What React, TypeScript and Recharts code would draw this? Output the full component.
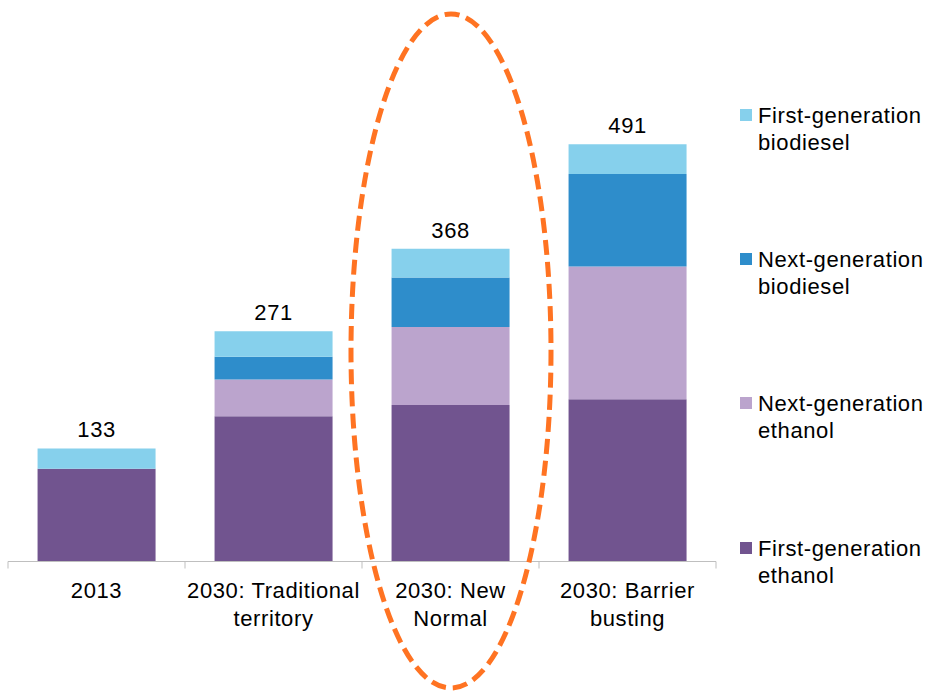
import { BarChart, Bar, XAxis, YAxis, LabelList } from 'recharts';

const categories = ['2013', '2030: Traditional territory', '2030: New Normal', '2030: Barrier busting'];
const tickLines = [['2013'], ['2030: Traditional', 'territory'], ['2030: New', 'Normal'], ['2030: Barrier', 'busting']];
const firstGenEthanol = [109, 171, 184, 191];
const nextGenEthanol = [0, 43, 92, 156];
const nextGenBiodiesel = [0, 27, 58, 109];
const firstGenBiodiesel = [24, 30, 34, 35];
const totals = [133, 271, 368, 491];

const SERIES = [
  { key: 'firstGenEthanol', name: 'First-generation ethanol', color: '#71548f' },
  { key: 'nextGenEthanol', name: 'Next-generation ethanol', color: '#bba4cd' },
  { key: 'nextGenBiodiesel', name: 'Next-generation biodiesel', color: '#2e8dcb' },
  { key: 'firstGenBiodiesel', name: 'First-generation biodiesel', color: '#86d0ec' },
];

const data = categories.map((c, i) => ({
  name: c,
  firstGenEthanol: firstGenEthanol[i],
  nextGenEthanol: nextGenEthanol[i],
  nextGenBiodiesel: nextGenBiodiesel[i],
  firstGenBiodiesel: firstGenBiodiesel[i],
}));

const W = 935;
const H = 692;
const MARGIN = { top: 51.5, left: 8, right: 219, bottom: 60.5 };
const BAND = (W - MARGIN.left - MARGIN.right) / categories.length;
const FONT = '"Liberation Sans", Arial, sans-serif';
const AXIS_COLOR = '#bfbfbf';
const SPACING = 0.6;

function CategoryTick(props: any) {
  const { x, y, index } = props;
  const lines = tickLines[index] || [];
  return (
    <g>
      <line x1={x - BAND / 2} y1={y} x2={x - BAND / 2} y2={y + 7} stroke={AXIS_COLOR} />
      {index === categories.length - 1 && (
        <line x1={x + BAND / 2} y1={y} x2={x + BAND / 2} y2={y + 7} stroke={AXIS_COLOR} />
      )}
      {lines.map((l, i) => (
        <text key={i} x={x} y={y + 36 + i * 28} textAnchor="middle" fontSize={22} fontFamily={FONT} letterSpacing={SPACING} fill="#000">
          {l}
        </text>
      ))}
    </g>
  );
}

function TotalLabel(props: any) {
  const { x, y, width, index } = props;
  return (
    <text x={x + width / 2} y={y - 11} textAnchor="middle" fontSize={22} fontFamily={FONT} letterSpacing={SPACING} fill="#000">
      {totals[index]}
    </text>
  );
}

const LEGEND_TOPS = [102, 246, 390, 535];

function LegendBox() {
  const items = [...SERIES].reverse();
  return (
    <div style={{ position: 'absolute', left: 740, top: 0, width: 195, height: 600 }}>
      {items.map((s, i) => {
        const words = s.name.split(' ');
        return (
          <div key={s.key} style={{ position: 'absolute', top: LEGEND_TOPS[i], left: 0, fontFamily: FONT, fontSize: 22, letterSpacing: SPACING, lineHeight: '27px', color: '#000', whiteSpace: 'nowrap' }}>
            <div style={{ position: 'absolute', left: 0, top: 7, width: 12, height: 12, background: s.color }} />
            <div style={{ marginLeft: 18 }}>
              {words[0]}
              <br />
              {words.slice(1).join(' ')}
            </div>
          </div>
        );
      })}
    </div>
  );
}

export default function App() {
  return (
    <div style={{ position: 'absolute', left: 0, top: 0, width: W, height: H, background: '#fff' }}>
      <BarChart width={W} height={H} data={data} margin={MARGIN} barCategoryGap="16.7%">
        <XAxis
          dataKey="name"
          height={70}
          stroke={AXIS_COLOR}
          tickLine={false}
          tickSize={0}
          tickMargin={0}
          interval={0}
          tick={<CategoryTick />}
        />
        <YAxis hide domain={[0, 600]} />
        {SERIES.map((s, i) => (
          <Bar key={s.key} dataKey={s.key} name={s.name} stackId="a" fill={s.color} isAnimationActive={false}>
            {i === SERIES.length - 1 && <LabelList dataKey={s.key} content={<TotalLabel />} />}
          </Bar>
        ))}
      </BarChart>
      <LegendBox />
      {/* dashed highlight around the New Normal scenario */}
      <svg width={W} height={H} style={{ position: 'absolute', left: 0, top: 0, pointerEvents: 'none' }}>
        <ellipse cx={451} cy={351} rx={100} ry={337} fill="none" stroke="#ff7322" strokeWidth={5} strokeDasharray="15 7" />
      </svg>
    </div>
  );
}
